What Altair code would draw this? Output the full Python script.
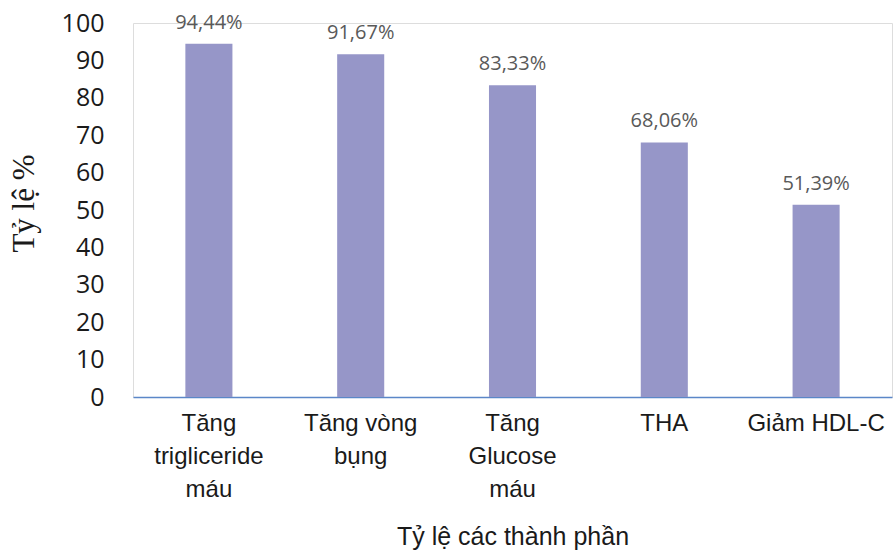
import altair as alt
import pandas as pd

# Components of the metabolic syndrome and their prevalence (%)
categories = [
    "Tăng\ntrigliceride\nmáu",
    "Tăng vòng\nbụng",
    "Tăng\nGlucose\nmáu",
    "THA",
    "Giảm HDL-C",
]
values = [94.44, 91.67, 83.33, 68.06, 51.39]
y_ticks = [0, 10, 20, 30, 40, 50, 60, 70, 80, 90, 100]

df = pd.DataFrame({"cat": categories, "val": values})
df["label"] = [f"{v:.2f}".replace(".", ",") + "%" for v in values]

x_enc = alt.X(
    "cat:N",
    sort=categories,
    scale=alt.Scale(paddingInner=0.69, paddingOuter=0.345),
    axis=alt.Axis(
        title="Tỷ lệ các thành phần",
        labelExpr="split(datum.label, '\\n')",
        labelAngle=0,
        labelFont="Liberation Sans",
        labelFontSize=24,
        labelLineHeight=33,
        labelColor="#1a1a1a",
        labelPadding=14,
        labelBaseline="top",
        ticks=False,
        grid=False,
        domainColor="#5B87C8",
        domainWidth=1.5,
        titleFont="Liberation Sans",
        titleFontSize=25,
        titleFontWeight="normal",
        titleColor="#1a1a1a",
        titleY=139,
        titleBaseline="middle",
    ),
)

y_enc = alt.Y(
    "val:Q",
    scale=alt.Scale(domain=[0, 100], nice=False),
    axis=alt.Axis(
        title="Tỷ lệ %",
        values=y_ticks,
        grid=False,
        domain=False,
        ticks=False,
        labelOverlap=False,
        labelFont="Open Sans",
        labelFontSize=25,
        labelColor="#1a1a1a",
        labelPadding=29,
        labelBaseline="middle",
        titleFont="Liberation Serif",
        titleFontSize=31,
        titleFontWeight="normal",
        titleColor="#1a1a1a",
        titleX=-109,
        titleY=180,
        titleAlign="center",
        titleBaseline="middle",
    ),
)

base = alt.Chart(df).encode(x=x_enc, y=y_enc)

bars = base.mark_bar(color="#9696C8")

labels = base.mark_text(
    font="Open Sans",
    fontSize=20,
    color="#595959",
    baseline="alphabetic",
    dy=-15,
).encode(text="label:N")

chart = (
    alt.layer(bars, labels)
    .properties(
        width=759,
        height=374,
        autosize=alt.AutoSizeParams(type="none"),
        padding={"left": 133, "top": 23, "right": 1, "bottom": 156},
    )
    .configure_view(stroke="transparent", strokeWidth=0)
    .configure_axis(domain=False, grid=False, ticks=False)
    .configure(background="white")
)

chart.save("out.html", embed_options={"renderer": "svg", "actions": False})
